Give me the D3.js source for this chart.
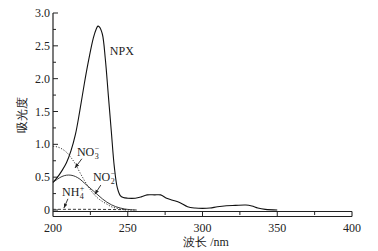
<!DOCTYPE html>
<html>
<head>
<meta charset="utf-8">
<script src="https://cdn.jsdelivr.net/npm/d3@7"></script>
<style>
  body { margin: 0; background: #fff; }
</style>
</head>
<body>
<script>
// data
var npx = [[200,0.42],[203,0.5],[206,0.6],[209,0.72],[212,0.9],[215,1.15],[218,1.52],[221,1.93],[224,2.3],[227,2.62],[229,2.76],[230,2.8],[231,2.79],[233,2.68],[235,2.3],[237,1.75],[239,1.2],[241,0.66],[243,0.34],[245,0.22],[247,0.19],[250,0.18],[255,0.18],[259,0.2],[263,0.23],[268,0.23],[272,0.23],[276,0.18],[280,0.15],[285,0.11],[290,0.05],[295,0.03],[300,0.025],[305,0.03],[310,0.05],[316,0.065],[322,0.07],[329,0.075],[333,0.06],[337,0.03],[342,0.01],[350,0]];
var no3 = [[200,0.97],[203,0.96],[206,0.93],[209,0.88],[212,0.8],[215,0.7],[218,0.57],[221,0.45],[224,0.34],[227,0.25],[230,0.18],[233,0.13],[236,0.09],[239,0.05],[242,0.03],[246,0.01],[250,0],[255,0]];
var no2 = [[200,0.42],[203,0.47],[206,0.51],[209,0.53],[212,0.53],[215,0.51],[218,0.47],[221,0.41],[224,0.35],[227,0.29],[230,0.23],[233,0.17],[236,0.12],[239,0.08],[242,0.05],[245,0.03],[248,0.015],[252,0.005],[256,0]];
var nh4 = [[200,0.01],[225,0.01],[250,0.005]];
var xTicks = [200,250,300,350,400];
var yTicks = [0,0.5,1.0,1.5,2.0,2.5,3.0];

var width = 378, height = 251;
var serif = "'Liberation Serif', 'DejaVu Serif', serif";
var svg = d3.select("body").append("svg").attr("width",width).attr("height",height)
    .attr("font-family",serif).attr("fill","#222");

var x = d3.scaleLinear().domain([200,400]).range([53,352]);
var y = d3.scaleLinear().domain([0,3]).range([210,13]);
var bandTop = 211.5, bandBot = 216.5;

svg.append("defs").append("marker")
    .attr("id","arr").attr("viewBox","0 0 10 10").attr("refX",10).attr("refY",5)
    .attr("markerWidth",5).attr("markerHeight",5).attr("orient","auto")
    .append("path").attr("d","M0,1 L10,5 L0,9 Z").attr("fill","#222");

// y axis
svg.append("line").attr("x1",x(200)).attr("x2",x(200)).attr("y1",y(3)).attr("y2",bandBot)
    .attr("stroke","#222").attr("stroke-width",1.2);
d3.range(0,3.01,0.25).forEach(function(v){
    var major = Math.abs(v*2 - Math.round(v*2)) < 1e-6;
    svg.append("line").attr("x1",x(200)).attr("x2",x(200)+(major?5:3))
        .attr("y1",y(v)).attr("y2",y(v)).attr("stroke","#222").attr("stroke-width",1);
});
svg.selectAll(".yl").data(yTicks).enter().append("text")
    .attr("x",50).attr("y",function(d){ return y(d)+4; })
    .attr("text-anchor","end").attr("font-size","12px")
    .text(function(d){ return d===0 ? "0" : d.toFixed(1); });

// x axis (double line band)
[bandTop,bandBot].forEach(function(yy){
    svg.append("line").attr("x1",x(200)).attr("x2",x(400)).attr("y1",yy).attr("y2",yy)
        .attr("stroke","#222").attr("stroke-width",1.1);
});
svg.append("line").attr("x1",x(400)).attr("x2",x(400)).attr("y1",bandTop).attr("y2",bandBot)
    .attr("stroke","#222").attr("stroke-width",1.1);
d3.range(225,400,25).forEach(function(v){
    var major = v % 50 === 0;
    svg.append("line").attr("x1",x(v)).attr("x2",x(v))
        .attr("y1",bandTop).attr("y2",major?bandBot:bandTop+3.5)
        .attr("stroke","#222").attr("stroke-width",1);
});
svg.selectAll(".xl").data(xTicks).enter().append("text")
    .attr("x",function(d){ return x(d); }).attr("y",232)
    .attr("text-anchor","middle").attr("font-size","12px")
    .text(function(d){ return d; });

svg.append("text").attr("x",206).attr("y",246).attr("text-anchor","middle")
    .attr("font-size","12px").text("波长 /nm");
svg.append("text").attr("transform","translate(26,115) rotate(-90)")
    .attr("text-anchor","middle").attr("font-size","12px").text("吸光度");

// curves
var line = d3.line().x(function(d){ return x(d[0]); }).y(function(d){ return y(d[1]); })
    .curve(d3.curveCatmullRom);
svg.append("path").datum(npx).attr("d",line).attr("fill","none").attr("stroke","#111").attr("stroke-width",1.1);
svg.append("path").datum(no2).attr("d",line).attr("fill","none").attr("stroke","#222").attr("stroke-width",0.9);
svg.append("path").datum(no3).attr("d",line).attr("fill","none").attr("stroke","#222").attr("stroke-width",0.9).attr("stroke-dasharray","1.2,1.6");
svg.append("path").datum(nh4).attr("d",line).attr("fill","none").attr("stroke","#222").attr("stroke-width",0.9).attr("stroke-dasharray","3,2");

// labels
svg.append("text").attr("x",x(238)).attr("y",y(2.36)).attr("font-size","12px").text("NPX");

function ionLabel(nm, v, base, sub, sup){
    var t = svg.append("text").attr("x",x(nm)).attr("y",y(v)).attr("font-size","12px").text(base);
    var w = t.node().getComputedTextLength();
    svg.append("text").attr("x",x(nm)+w+0.5).attr("y",y(v)+3).attr("font-size","8px").text(sub);
    svg.append("text").attr("x",x(nm)+w+0.5).attr("y",y(v)-5).attr("font-size","8px").text(sup);
}
ionLabel(216, 0.82, "NO", "3", "−");
ionLabel(226.7, 0.44, "NO", "2", "−");
ionLabel(206, 0.21, "NH", "4", "+");

var arrows = [[219.3,0.78,214.7,0.64],[232,0.38,228,0.24],[210,0.17,207.3,0.03]];
svg.selectAll(".arr").data(arrows).enter().append("line")
    .attr("x1",function(d){ return x(d[0]); }).attr("y1",function(d){ return y(d[1]); })
    .attr("x2",function(d){ return x(d[2]); }).attr("y2",function(d){ return y(d[3]); })
    .attr("stroke","#222").attr("stroke-width",0.9).attr("marker-end","url(#arr)");
</script>
</body>
</html>
